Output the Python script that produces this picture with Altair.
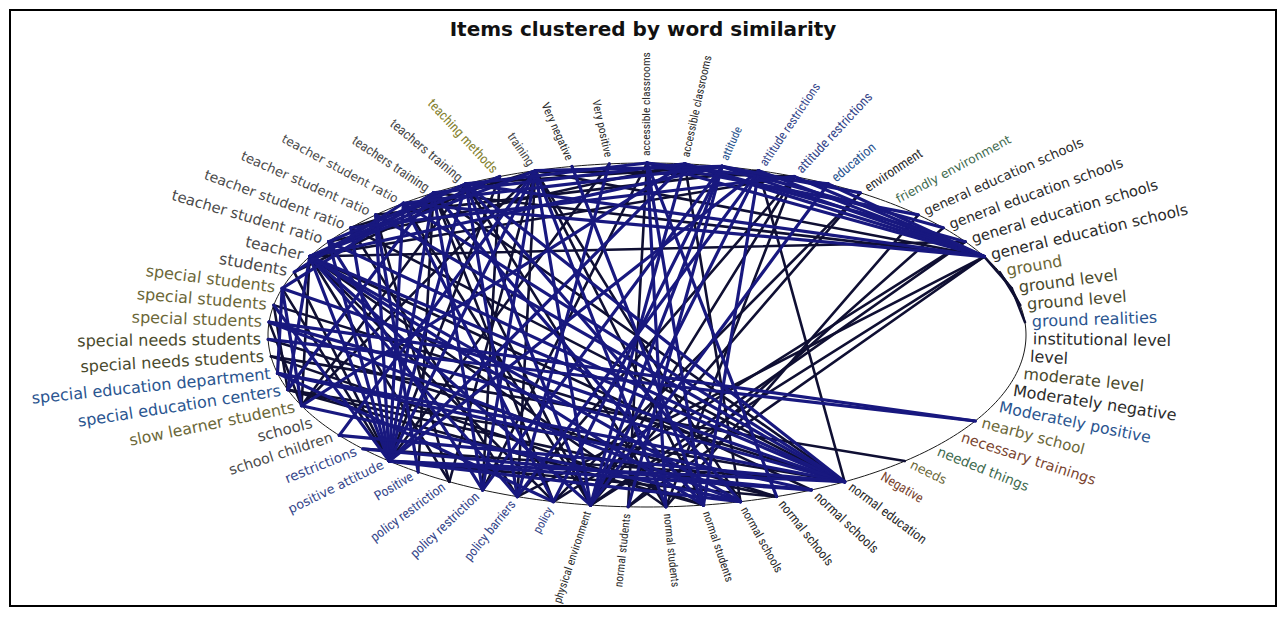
import numpy as np
import pandas as pd
import altair as alt

# ---------------- data ----------------
labels = [
    "accessible classrooms", "accessible classrooms", "attitude", "attitude restrictions", "attitude restrictions",
    "education", "environment", "friendly environment", "general education schools", "general education schools",
    "general education schools", "general education schools", "ground", "ground level", "ground level",
    "ground realities", "institutional level", "level", "moderate level", "Moderately negative",
    "Moderately positive", "nearby school", "necessary trainings", "needed things", "needs",
    "Negative", "normal education", "normal schools", "normal schools", "normal schools",
    "normal students", "normal students", "normal students", "physical environment", "policy",
    "policy barriers", "policy restriction", "policy restriction", "Positive", "positive attitude",
    "restrictions", "school children", "schools", "slow learner students", "special education centers",
    "special education department", "special needs students", "special needs students", "special students", "special students",
    "special students", "students", "teacher", "teacher student ratio", "teacher student ratio",
    "teacher student ratio", "teacher student ratio", "teachers training", "teachers training", "teaching methods",
    "training", "Very negative", "Very positive",
]

# word cluster of each label (drives label colour)
label_cluster = [
    0, 0, 1, 6, 6,
    1, 0, 4, 0, 0,
    0, 0, 2, 7, 7,
    1, 0, 0, 7, 0,
    1, 2, 3, 4, 2,
    3, 0, 0, 0, 0,
    0, 0, 0, 0, 6,
    6, 6, 6, 6, 6,
    6, 5, 5, 2, 1,
    1, 7, 7, 2, 2,
    2, 5, 5, 5, 5,
    5, 5, 5, 5, 8,
    5, 0, 0,
]
cluster_ids = [0, 1, 2, 3, 4, 5, 6, 7, 8]
cluster_palette = ["#2b2b2b", "#2a5590", "#6b6738", "#7a4530", "#3f6b4f",
                   "#4a4a4a", "#35468a", "#4a4a2c", "#858230"]

# similarity links (indices into labels) and link strength
edge_source = (
    [39] * 19 +
    [52] * 17 +
    [26] * 13 +
    [11] * 14 +
    [10, 9, 8, 10, 10, 9, 8] +
    [60] * 9 +
    [33] * 9 +
    [0] * 6 +
    [58, 58, 58, 57, 57, 57, 58, 57, 58, 57] +
    [50, 49, 47, 48, 46, 48, 50, 47, 46, 45, 44, 43, 43, 48, 51, 53, 54, 50, 51] +
    [45, 44, 43, 40, 40] +
    [35, 35, 34, 36, 37, 30, 31, 32, 29, 28, 36, 34, 35, 34, 37, 36, 38, 38] +
    [2, 3, 4, 1, 62, 61, 2] +
    [12, 13]
)
edge_target = (
    [52, 53, 54, 55, 56, 57, 58, 59, 60, 50, 49, 51, 26, 27, 28, 29, 62, 3, 1] +
    [33, 34, 35, 31, 30, 26, 27, 43, 44, 2, 4, 29, 37, 60, 59, 58, 10] +
    [53, 54, 55, 56, 57, 48, 49, 50, 3, 45, 44, 41, 58] +
    [0, 1, 2, 60, 58, 57, 56, 33, 32, 35, 13, 3, 4, 5] +
    [33, 32, 31, 34, 1, 2, 0] +
    [33, 31, 30, 29, 36, 35, 4, 2, 41] +
    [2, 3, 4, 5, 6, 58, 57, 1, 56] +
    [32, 31, 5, 58, 36, 30] +
    [31, 29, 35, 30, 34, 1, 2, 36, 43, 44] +
    [43, 44, 21, 21, 24, 43, 45, 28, 30, 34, 30, 60, 1, 29, 56, 58, 60, 57, 59] +
    [27, 28, 29, 27, 26] +
    [3, 4, 6, 2, 60, 3, 4, 2, 1, 0, 59, 2, 54, 56, 55, 53, 57, 55] +
    [56, 55, 54, 53, 35, 30, 6] +
    [14, 15]
)
edge_weight = (
    [2, 2, 2, 2, 2, 2, 2, 1, 2, 1, 2, 1, 2, 2, 1, 2, 1, 2, 2] +
    [2, 1, 2, 1, 2, 2, 1, 1, 2, 2, 1, 2, 1, 2, 2, 2, 1] +
    [2, 1, 2, 2, 1, 2, 1, 2, 1, 2, 1, 2, 2] +
    [2, 2, 2, 1, 2, 1, 2, 1, 1, 1, 1, 2, 2, 2] +
    [1, 1, 1, 1, 2, 2, 2] +
    [2, 2, 1, 1, 2, 1, 1, 2, 2] +
    [2, 2, 1, 2, 1, 2, 1, 2, 1] +
    [1, 2, 2, 2, 1, 2] +
    [1, 2, 2, 2, 1, 2, 1, 2, 1, 2] +
    [2, 1, 2, 2, 1, 1, 2, 1, 1, 2, 1, 1, 2, 2, 2, 2, 1, 2, 1] +
    [2, 1, 2, 2, 1] +
    [2, 1, 1, 2, 1, 2, 1, 2, 1, 2, 1, 2, 1, 2, 1, 2, 1, 2] +
    [2, 1, 2, 1, 2, 2, 2] +
    [1, 1]
)
assert len(edge_source) == len(edge_target) == len(edge_weight)

TITLE = "Items clustered by word similarity"

# ---------------- layout (circle layout squeezed into the plot's ellipse) ----------------
N = len(labels)
W, H = 1266, 596          # plot area
RX, RY = 379.0, 172.0      # pixel radii of the ellipse
CX, CY = 637.0, 325.0      # ellipse centre inside the plot area
x_dom = [-CX / RX, (W - CX) / RX]
y_dom = [-(H - CY) / RY, CY / RY]

phi = np.arange(N) * 2 * np.pi / N
sx, cy = np.sin(phi), np.cos(phi)
nlen = np.sqrt((RX * sx) ** 2 + (RY * cy) ** 2)
f = 1 + 7.0 / nlen
ang = np.degrees(np.arctan2(-RY * cy, RX * sx))
left = sx < -1e-9
ang = np.where(left, ang + 180, ang)
ang = np.mod(ang, 360)
per_char = nlen / RX * 9.1
wide = (nlen / RX) >= 0.72
fs = np.where(wide, np.clip(per_char / 0.54, 11, 16), np.clip(per_char / 0.38, 11.5, 13.5))

lab_df = pd.DataFrame({
    "label": labels, "cluster": label_cluster,
    "lx": sx * f, "ly": cy * f, "ang": ang, "fs": fs,
    "left": left, "wide": wide,
})

src = np.array(edge_source)
tgt = np.array(edge_target)
edge_df = pd.DataFrame({
    "x": sx[src], "y": cy[src],
    "x2": sx[tgt], "y2": cy[tgt],
    "w": edge_weight,
}).sort_values("w", kind="stable")

xs = alt.Scale(domain=x_dom, nice=False, zero=False)
ys = alt.Scale(domain=y_dom, nice=False, zero=False)

ellipse = alt.Chart(alt.sequence(0, 361, 1, as_="t")).transform_calculate(
    ex="sin(datum.t * PI / 180)", ey="cos(datum.t * PI / 180)"
).mark_line(color="#1a1a1a", strokeWidth=1.0).encode(
    x=alt.X("ex:Q", scale=xs, axis=None),
    y=alt.Y("ey:Q", scale=ys, axis=None),
    order="t:Q",
)

edges = alt.Chart(edge_df).mark_rule(strokeCap="round").encode(
    x=alt.X("x:Q", scale=xs, axis=None),
    y=alt.Y("y:Q", scale=ys, axis=None),
    x2="x2:Q", y2="y2:Q",
    stroke=alt.Stroke("w:N", scale=alt.Scale(domain=[1, 2], range=["#0f0f33", "#18187f"]), legend=None),
    strokeWidth=alt.StrokeWidth("w:Q", scale=alt.Scale(domain=[1, 2], range=[2.6, 3.2]), legend=None),
)

WIDE_FONT = "DejaVu Sans"
NARROW_FONT = "Liberation Sans Narrow, Roboto Condensed, Arial Narrow, Liberation Sans"


def label_layer(mask, align, font):
    return alt.Chart(lab_df[mask]).mark_text(align=align, baseline="middle", font=font).encode(
        x=alt.X("lx:Q", scale=xs, axis=None),
        y=alt.Y("ly:Q", scale=ys, axis=None),
        text="label:N",
        angle=alt.Angle("ang:Q", scale=None),
        size=alt.Size("fs:Q", scale=None),
        fill=alt.Fill("cluster:N", scale=alt.Scale(domain=cluster_ids, range=cluster_palette), legend=None),
    )


layers = [ellipse, edges,
          label_layer((~lab_df.left) & lab_df.wide, "left", WIDE_FONT),
          label_layer((~lab_df.left) & (~lab_df.wide), "left", NARROW_FONT),
          label_layer(lab_df.left & lab_df.wide, "right", WIDE_FONT),
          label_layer(lab_df.left & (~lab_df.wide), "right", NARROW_FONT)]

chart = alt.layer(*layers).properties(
    width=W, height=H, padding=2,
    title=alt.Title(TITLE, font="DejaVu Sans", fontSize=20, fontWeight="bold",
                    color="#111111", anchor="middle", offset=-30),
).configure_view(stroke="#000000", strokeWidth=2)

chart.save("out.html", embed_options={"renderer": "svg", "actions": False})
